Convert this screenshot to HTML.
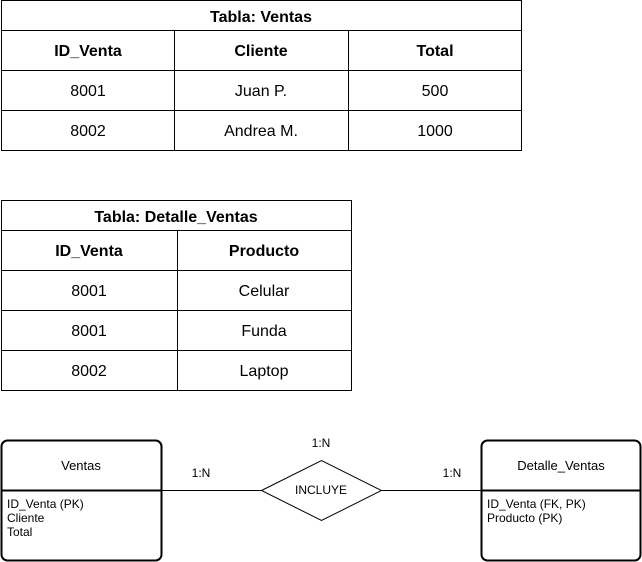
<!DOCTYPE html>
<html><head><meta charset="utf-8"><style>
html,body{margin:0;padding:0;background:#fff;}
svg{display:block;font-family:"Liberation Sans",Arial,sans-serif;}
</style></head><body>
<svg width="642" height="562" viewBox="0 0 642 562" xmlns="http://www.w3.org/2000/svg">
<g fill="none" stroke="#000" stroke-width="1">
<rect x="1.5" y="0.5" width="520" height="150"/>
<line x1="1.5" y1="30.5" x2="521.5" y2="30.5"/>
<line x1="1.5" y1="70.5" x2="521.5" y2="70.5"/>
<line x1="1.5" y1="110.5" x2="521.5" y2="110.5"/>
<line x1="174.5" y1="30.5" x2="174.5" y2="150.5"/>
<line x1="348.5" y1="30.5" x2="348.5" y2="150.5"/>
<rect x="1.5" y="200.5" width="350" height="190"/>
<line x1="1.5" y1="230.5" x2="351.5" y2="230.5"/>
<line x1="1.5" y1="270.5" x2="351.5" y2="270.5"/>
<line x1="1.5" y1="310.5" x2="351.5" y2="310.5"/>
<line x1="1.5" y1="350.5" x2="351.5" y2="350.5"/>
<line x1="177.5" y1="230.5" x2="177.5" y2="390.5"/>
<rect x="1.5" y="440.5" width="160" height="120" rx="6" stroke-width="2"/>
<line x1="1.5" y1="490.5" x2="161.5" y2="490.5" stroke-width="2"/>
<rect x="481.5" y="440.5" width="159" height="120" rx="6" stroke-width="2"/>
<line x1="481.5" y1="490.5" x2="640.5" y2="490.5" stroke-width="2"/>
<polygon points="261.5,490.5 321.5,460.5 381.5,490.5 321.5,520.5"/>
<line x1="161.5" y1="490.5" x2="261.5" y2="490.5"/>
<line x1="381.5" y1="490.5" x2="481.5" y2="490.5"/>
</g>
<g font-size="16" text-anchor="middle" fill="#000">
<text x="261" y="22" font-weight="bold">Tabla: Ventas</text>
<text x="88" y="56" font-weight="bold">ID_Venta</text>
<text x="261" y="56" font-weight="bold">Cliente</text>
<text x="435" y="56" font-weight="bold">Total</text>
<text x="88" y="96">8001</text>
<text x="261" y="96">Juan P.</text>
<text x="435" y="96">500</text>
<text x="88" y="136">8002</text>
<text x="261" y="136">Andrea M.</text>
<text x="435" y="136">1000</text>
<text x="176" y="222" font-weight="bold">Tabla: Detalle_Ventas</text>
<text x="89" y="256" font-weight="bold">ID_Venta</text>
<text x="264" y="256" font-weight="bold">Producto</text>
<text x="89" y="296">8001</text>
<text x="264" y="296">Celular</text>
<text x="89" y="336">8001</text>
<text x="264" y="336">Funda</text>
<text x="89" y="376">8002</text>
<text x="264" y="376">Laptop</text>
</g>
<g font-size="12" fill="#000">
<text x="81" y="470" text-anchor="middle" font-size="13">Ventas</text>
<text x="561" y="470" text-anchor="middle" font-size="13">Detalle_Ventas</text>
<text x="321" y="494" text-anchor="middle">INCLUYE</text>
<text x="321" y="447" text-anchor="middle">1:N</text>
<text x="201" y="477" text-anchor="middle">1:N</text>
<text x="452" y="477" text-anchor="middle">1:N</text>
<text x="7" y="508">ID_Venta (PK)</text>
<text x="7" y="522">Cliente</text>
<text x="7" y="536">Total</text>
<text x="487" y="508">ID_Venta (FK, PK)</text>
<text x="487" y="522">Producto (PK)</text>
</g>
</svg>
</body></html>
